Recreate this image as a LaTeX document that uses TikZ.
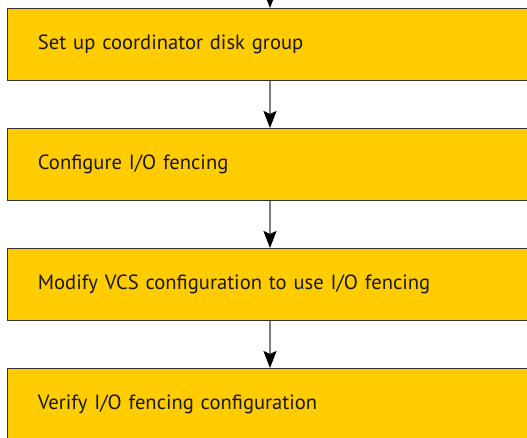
\documentclass[tikz,border=0pt]{standalone}
\usepackage{fontspec}
\setmainfont{PT Sans}
\usetikzlibrary{arrows.meta}
\tikzset{
  stepbox/.style={draw=black!80, line width=0.8pt, fill=boxfill, rectangle, anchor=north west,
    minimum height=72pt, text width=472pt, inner xsep=30.5pt, inner ysep=0pt, align=left,
    font=\fontsize{20.6}{24}\selectfont, text=black!90},
  flow/.style={draw=black!50, line width=1.8pt, -{Stealth[length=17pt, width=13pt, inset=3pt, color=black]}}
}
\definecolor{boxfill}{RGB}{255,204,0}
\begin{document}
\begin{tikzpicture}[x=1pt,y=1pt]
\useasboundingbox (0,0) rectangle (527,-437);
\clip (0,0) rectangle (527,-437);
\node[stepbox] (b1) at (7,-8) {Set up coordinator disk group};
\node[stepbox] (b2) at (7,-128) {Configure I/O fencing};
\node[stepbox] (b3) at (7,-248) {Modify VCS configuration to use I/O fencing};
\node[stepbox] (b4) at (7,-368) {Verify I/O fencing configuration};
\coordinate (top) at (270,30);
\draw[flow] (top) -- (b1.north -| top);
\draw[flow] (b1.south -| top) -- (b2.north -| top);
\draw[flow] (b2.south -| top) -- (b3.north -| top);
\draw[flow] (b3.south -| top) -- (b4.north -| top);
\end{tikzpicture}
\end{document}
